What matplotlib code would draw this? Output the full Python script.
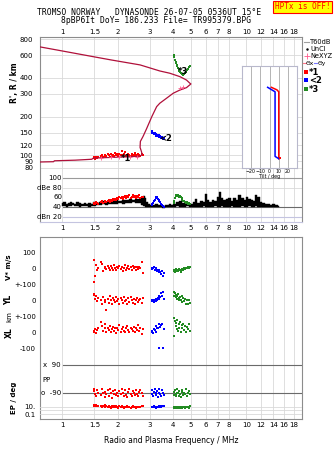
import matplotlib
matplotlib.use('Agg')
import matplotlib.pyplot as plt
import numpy as np
from matplotlib.ticker import FixedLocator, FixedFormatter, NullLocator

plt.rcParams['font.family'] = 'DejaVu Sans'
plt.rcParams['font.size'] = 5

# ---------------- data ----------------
freq_ticks = [1, 1.5, 2, 3, 4, 5, 6, 7, 8, 10, 12, 14, 16, 18]
freq_labels = ['1', '1.5', '2', '3', '4', '5', '6', '7', '8', '10', '12', '14', '16', '18']
height_ticks = [80, 90, 100, 120, 150, 200, 300, 400, 600, 800]

# model profile (frequency MHz, height km)
prof_f = [0.75, 0.90, 0.91, 1.18, 1.45, 1.48, 2.00, 2.60, 2.72, 2.70,
          2.65, 2.66, 2.75, 2.87, 3.07, 3.26, 3.39, 3.69, 4.01, 4.36,
          4.73, 5.00, 4.93, 4.73, 4.36, 3.84, 3.39, 2.65, 1.86, 1.48,
          1.00, 0.75]
prof_h = [88.5, 89, 90.5, 91.5, 93, 95, 96.5, 98, 100.5, 106,
          115, 128, 140, 160, 200, 239, 254, 278, 304, 322,
          336, 359, 364, 385, 409, 435, 453, 505, 551, 585,
          649, 700]

nexyz_f = [1.62, 1.85, 2.05, 2.35, 2.55, 4.35, 4.55]
nexyz_h = [95, 96, 96.5, 97, 97.5, 334, 338]

# echo group 1 (red)
red_f = [1.49, 1.50, 1.51, 1.52, 1.54, 1.57, 1.62, 1.65, 1.67, 1.70,
         1.72, 1.74, 1.77, 1.79, 1.81, 1.84, 1.86, 1.89, 1.91, 1.94,
         1.97, 1.99, 2.02, 2.05, 2.08, 2.11, 2.14, 2.17, 2.20, 2.23,
         2.26, 2.29, 2.32, 2.36, 2.39, 2.42, 2.46, 2.49, 2.52, 2.55,
         2.59, 2.62, 2.66, 2.70, 2.74]
red_h = [95, 96, 94, 97, 95, 96, 98, 100, 97, 101,
         99, 98, 102, 100, 97, 103, 99, 101, 98, 104,
         100, 102, 99, 103, 101, 108, 100, 102, 105, 99,
         101, 103, 100, 98, 102, 99, 101, 104, 100, 98,
         102, 101, 99, 103, 100]
red_amp = [47, 49, 46, 50, 48, 47, 50, 52, 49, 51,
           53, 50, 52, 54, 51, 55, 53, 56, 54, 57,
           55, 59, 56, 60, 58, 62, 57, 61, 64, 59,
           63, 60, 65, 58, 62, 66, 60, 63, 59, 64,
           61, 65, 58, 62, 60]
red_vstar = [52, -88, -45, 20, -10, 0, 42, 25, -15, 10,
             5, -5, 15, 0, -10, 12, 3, -8, 18, 5,
             -12, 8, 0, 15, -5, 10, -15, 5, 20, -8,
             2, 12, -6, 8, -12, 15, 0, 6, -10, 10,
             -4, 8, 0, 40, -30]
red_yl = [40, 35, 10, 25, -5, 15, 0, -20, 20, 5,
          -10, -60, 10, -15, 25, 0, -20, 15, 5, -10,
          20, -5, 10, -25, 15, 0, -15, 20, -5, 5,
          -20, 12, -8, 18, 0, -15, 10, -22, 5, 15,
          -10, 0, 8, -18, 12]
red_xl = [10, 5, 20, -5, 15, 30, 65, 40, 10, 25,
          55, 5, 30, 15, 40, 0, 20, 35, 10, 25,
          -5, 30, 15, 45, 5, 20, 35, 10, 0, 25,
          40, 15, 5, 30, 20, 10, 35, 0, 25, 15,
          45, 10, 30, -10, 20]
red_pp = [-60, -75, -95, -110, -70, -85, -100, -65, -90, -115,
          -80, -95, -70, -105, -60, -88, -120, -75, -92, -68,
          -100, -85, -110, -78, -95, -62, -88, -105, -72, -98,
          -115, -80, -65, -92, -108, -75, -85, -100, -70, -95,
          -110, -82, -68, -90, -105]
red_ep = [20, 25, 15, 22, 18, 12, 20, 8, 15, 10,
          25, 12, 8, 18, 10, 6, 14, 9, 12, 7,
          16, 10, 6, 12, 8, 15, 9, 6, 11, 8,
          13, 7, 10, 6, 9, 12, 7, 10, 6, 8,
          11, 7, 9, 12, 15]

# echo group 2 (blue)
blue_f = [3.06, 3.08, 3.12, 3.15, 3.19, 3.22, 3.25, 3.28, 3.31, 3.34,
          3.37, 3.40, 3.44, 3.48, 3.53, 3.58]
blue_h = [150, 154, 148, 145, 149, 146, 142, 144, 140, 143,
          138, 141, 136, 139, 134, 136]
blue_amp = [46, 44, 48, 52, 55, 58, 60, 61, 57, 55,
            52, 50, 47, 44, 42, 40]
blue_vstar = [5, -5, 0, 10, -10, -5, 0, -15, -8, -20,
              -12, -25, -35, -15, -45, -30]
blue_yl = [0, -5, 5, -8, 0, 10, -5, 5, 15, 8,
           25, 20, 45, 30, 55, 10]
blue_xl = [0, 10, -5, 20, 15, 5, 40, 30, 25, -100,
           50, 35, 45, 55, -100, 20]
blue_pp = [-70, -95, -110, -80, -65, -100, -90, -75, -115, -85,
           -60, -95, -105, -72, -88, -98]
blue_ep = [8, 10, 7, 12, 9, 6, 8, 10, 7, 12,
           9, 14, 11, 16, 18, 20]

# echo group 3 (green)
green_f = [4.04, 4.07, 4.10, 4.13, 4.16, 4.19, 4.22, 4.25, 4.29, 4.33,
           4.37, 4.41, 4.45, 4.50, 4.55, 4.60, 4.65, 4.70, 4.76, 4.82,
           4.88, 4.95]
green_h = [605, 580, 555, 535, 520, 505, 492, 480, 468, 455,
           448, 440, 432, 426, 422, 428, 438, 448, 460, 472,
           485, 495]
green_amp = [48, 52, 58, 63, 66, 65, 64, 66, 63, 62,
             64, 60, 58, 55, 52, 53, 50, 48, 50, 47,
             49, 46]
green_vstar = [-15, -10, -20, -5, -12, -18, -8, -15, -10, -5,
               -12, -20, -8, -3, -10, 0, -5, 5, 0, 8,
               3, 10]
green_yl = [30, 55, 45, 20, 35, 10, 25, 40, 15, 0,
            20, 5, 30, -10, 15, -5, 10, -20, 0, -25,
            5, -15]
green_xl = [90, -25, 70, 40, 60, 20, 75, 10, 50, 30,
            65, 0, 45, 25, 55, 15, 40, 5, 35, 20,
            50, 10]
green_pp = [-80, -100, -70, -95, -110, -85, -65, -90, -105, -75,
            -95, -115, -80, -70, -100, -88, -92, -60, -108, -85,
            -78, -95]
green_ep = [6, 8, 5, 9, 7, 10, 6, 8, 5, 7,
            9, 6, 8, 5, 7, 10, 6, 8, 7, 9,
            6, 12]

# unclassified amplitude envelope (dB)
amp_f = [1.00, 1.03, 1.06, 1.09, 1.12, 1.15, 1.18, 1.21, 1.25, 1.29,
         1.33, 1.37, 1.41, 1.45, 1.50, 1.56, 1.62, 1.68, 1.75, 1.82,
         1.90, 1.98, 2.06, 2.15, 2.25, 2.35, 2.45, 2.55, 2.65, 2.72,
         2.78, 2.84, 2.90, 2.97, 3.05, 3.15, 3.25, 3.35, 3.45, 3.55,
         3.65, 3.75, 3.85, 3.95, 4.05, 4.20, 4.40, 4.60, 4.80, 5.00,
         5.20, 5.35, 5.50, 5.70, 5.90, 6.05, 6.20, 6.40, 6.60, 6.80,
         7.00, 7.20, 7.40, 7.60, 7.85, 8.10, 8.35, 8.60, 8.90, 9.20,
         9.50, 9.80, 10.1, 10.4, 10.7, 11.0, 11.3, 11.6, 12.0, 12.4,
         12.8, 13.2, 13.6, 14.0, 14.5, 15.0]
amp_top = [48, 50, 47, 49, 51, 48, 47, 50, 49, 46,
           48, 47, 49, 46, 50, 49, 51, 52, 50, 53,
           52, 54, 53, 55, 54, 56, 55, 57, 56, 62,
           64, 58, 50, 46, 45, 44, 46, 45, 44, 43,
           45, 44, 46, 45, 47, 50, 52, 49, 47, 46,
           50, 56, 48, 52, 50, 67, 55, 50, 54, 52,
           60, 72, 58, 54, 56, 59, 52, 58, 55, 66,
           58, 54, 60, 57, 55, 52, 66, 60, 50, 48,
           46, 47, 45, 46, 44, 43]
amp_bot = [42, 43, 41, 43, 42, 44, 42, 43, 41, 42,
           43, 42, 41, 42, 43, 44, 45, 46, 45, 46,
           47, 46, 48, 47, 49, 48, 50, 49, 48, 45,
           42, 41, 40, 41, 40, 41, 40, 41, 40, 39,
           40, 41, 40, 41, 40, 42, 41, 40, 42, 41,
           41, 40, 41, 40, 42, 41, 40, 41, 40, 42,
           41, 40, 42, 41, 40, 41, 42, 40, 41, 40,
           42, 41, 40, 42, 41, 40, 42, 41, 40, 41,
           40, 41, 40, 41, 40, 41]

# tilt inset (deg, km)
tiltx_deg = [2, 8, 10, 10]
tiltx_h = [338, 323, 312, 94]
tilty_deg = [-2, 6, 6, 10]
tilty_h = [338, 312, 98, 94]

# ---------------- styling ----------------
W, H = 335, 451
PROF = '#b0103a'
GRID = '#d9d9d9'
FRAME = '#8c8c8c'
DARK = '#6a6a6a'
RED, BLUE, GREEN = '#ff0000', '#0000ff', '#228b22'
PINK = '#ff5a8c'
MS = 1.9

fig = plt.figure(figsize=(W / 100, H / 100), dpi=100)


def px_axes(x0, y0, x1, y1):
    return fig.add_axes([x0 / W, 1 - y1 / H, (x1 - x0) / W, (y1 - y0) / H])


def freq_axis(ax, grid=True):
    ax.set_xscale('log')
    ax.set_xlim(0.76, 20)
    ax.xaxis.set_major_locator(FixedLocator(freq_ticks))
    ax.xaxis.set_major_formatter(FixedFormatter(freq_labels))
    ax.xaxis.set_minor_locator(NullLocator())
    ax.tick_params(axis='x', length=0, labelsize=5, pad=2)
    if grid:
        for f in freq_ticks:
            ax.axvline(f, color=GRID, lw=0.6, zorder=0)
    for s in ax.spines.values():
        s.set_color(FRAME)
        s.set_linewidth(0.8)


def bare(ax):
    ax.patch.set_visible(False)
    for s in ax.spines.values():
        s.set_visible(False)
    ax.set_xscale('log')
    ax.set_xlim(0.76, 20)
    ax.set_xticks([])
    ax.xaxis.set_minor_locator(NullLocator())


# title
fig.text(149 / W, 1 - 12.7 / H, 'TROMSO NORWAY   DYNASONDE 26-07-05 0536UT 15°E',
         family='DejaVu Sans Mono', fontsize=5.8, ha='center', va='center')
fig.text(156 / W, 1 - 20.3 / H, '8pBP6It DoY= 186.233 File= TR995379.BPG',
         family='DejaVu Sans Mono', fontsize=5.8, ha='center', va='center')
fig.text(302.5 / W, 1 - 6.8 / H, 'HPTx is OFF!', family='DejaVu Sans Mono',
         fontsize=5.6, color='red', ha='center', va='center',
         bbox=dict(boxstyle='square,pad=0.2', fc='#ffff00', ec='red', lw=0.8))

# ---------------- height panel ----------------
ax_h = px_axes(40, 37, 302, 172)
freq_axis(ax_h)
ax_h.set_yscale('log')
ax_h.set_ylim(74, 833)
ax_h.yaxis.set_major_locator(FixedLocator(height_ticks))
ax_h.yaxis.set_major_formatter(FixedFormatter([str(v) for v in height_ticks]))
ax_h.yaxis.set_minor_locator(NullLocator())
ax_h.tick_params(axis='y', length=0, labelsize=5, pad=5)
ax_h.tick_params(axis='x', labeltop=True, labelbottom=False, pad=1.5)
ax_h.spines['bottom'].set_visible(False)
for v in height_ticks:
    ax_h.axhline(v, color=GRID, lw=0.6, zorder=0)

ax_h.plot(red_f, red_h, 's', color=RED, ms=MS, mew=0, zorder=3)
ax_h.plot(blue_f, blue_h, 's', color=BLUE, ms=MS, mew=0, zorder=3)
ax_h.plot(green_f, green_h, 's', color=GREEN, ms=MS, mew=0, zorder=3)
ax_h.plot(prof_f, prof_h, color=PROF, lw=0.9, zorder=4)
ax_h.plot(nexyz_f, nexyz_h, '+', color=PINK, ms=3, mew=0.6, zorder=5)
for lab, f, h in [('*1', 2.22, 93.5), ('<2', 3.63, 135), ('*3', 4.53, 448)]:
    ax_h.text(f, h, lab, fontsize=6, fontweight='bold', ha='center', va='center', zorder=6)

fig.text(14 / W, 1 - 83 / H, "R', R / km", rotation=90, fontsize=5.5,
         fontweight='bold', ha='center', va='center')

# tilt inset
ax_t = px_axes(241.7, 65.7, 297.3, 167.7)
ax_t.set_facecolor('white')
ax_t.set_zorder(5)
ax_t.set_xlim(-30, 30)
ax_t.set_yscale('log')
ax_t.set_ylim(80, 498)
ax_t.set_yticks([])
ax_t.yaxis.set_minor_locator(NullLocator())
ax_t.set_xticks([-20, -10, 0, 10, 20])
ax_t.tick_params(axis='x', length=0, labelsize=3.4, pad=0.8)
for s in ax_t.spines.values():
    s.set_color('#b8b8cc')
    s.set_linewidth(0.8)
for t in [-20, -10, 0, 10, 20]:
    ax_t.axvline(t, color='#a8a8a8', lw=0.6, zorder=0)
ax_t.plot(tiltx_deg, tiltx_h, color=RED, lw=1.1)
ax_t.plot(tilty_deg, tilty_h, color=BLUE, lw=1.1)
ax_t.plot([11], [95], 's', color=RED, ms=1.6, mew=0)
ax_t.set_xlabel('Tilt / deg', fontsize=3.4, labelpad=0.3)

# legend
ax_l = px_axes(302, 37, 335, 95)
ax_l.axis('off')
ax_l.set_xlim(302, 335)
ax_l.set_ylim(95, 37)
ax_l.plot([304, 309], [42.3, 42.3], color='#a0a0a0', lw=0.8)
ax_l.text(310, 42.3, 'T60dB', fontsize=4.8, va='center')
ax_l.plot([306.5], [49], '.', color='k', ms=1.5)
ax_l.text(310, 49, 'UnCl', fontsize=4.8, va='center')
ax_l.plot([306.5], [55.7], '+', color=PINK, ms=4, mew=0.6)
ax_l.text(310, 55.7, 'NeXYZ', fontsize=4.8, va='center')
ax_l.plot([302.7, 305.5], [63.3, 63.3], color='#ff7a8a', lw=0.8)
ax_l.text(306, 63.3, 'Θx', fontsize=4.3, va='center')
ax_l.plot([314, 317], [63.3, 63.3], color='#7a7aff', lw=0.8)
ax_l.text(317.5, 63.3, 'Θy', fontsize=4.3, va='center')
for col, lab, y in [(RED, '*1', 72.3), (BLUE, '<2', 80.3), (GREEN, '*3', 89.3)]:
    ax_l.plot([305.7], [y], 's', color=col, ms=2.2, mew=0)
    ax_l.text(309, y, lab, fontsize=6, fontweight='bold', va='center')

# ---------------- amplitude panel ----------------
ax_a = px_axes(40, 172, 302, 222)
freq_axis(ax_a)
ax_a.set_ylim(10.5, 111.5)
ax_a.set_yticks([])
ax_a.spines['top'].set_visible(False)
ax_a.spines['bottom'].set_color('#c4c4e0')
x0 = 0.088
ax_a.axhline(100, xmin=x0, color='#9a9a9a', lw=0.8)
ax_a.axhline(80, xmin=x0, color=GRID, lw=0.6)
ax_a.axhline(40, xmin=x0, color=DARK, lw=0.8)
ax_a.axhline(20, xmin=x0, color='#c4c4e0', lw=0.8)
for v, lab in [(100, '100'), (80, 'dBe 80'), (60, '60'), (40, '40'), (20, 'dBn 20')]:
    ax_a.text(0.084, v, lab, transform=ax_a.get_yaxis_transform(), fontsize=5,
              ha='right', va='center')
ax_a.fill_between(amp_f, amp_bot, amp_top, step='mid', color='k', lw=0.3, zorder=2)
ax_a.plot(red_f, red_amp, 's', color=RED, ms=MS, mew=0, zorder=3)
ax_a.plot(blue_f, blue_amp, 's', color=BLUE, ms=MS, mew=0, zorder=3)
ax_a.plot(green_f, green_amp, 's', color=GREEN, ms=MS, mew=0, zorder=3)

# ---------------- bottom panel ----------------
ax_b = px_axes(40, 237, 302, 419)
freq_axis(ax_b)
ax_b.set_yticks([])
ax_b.set_xlabel('Radio and Plasma Frequency / MHz', fontsize=5.5, labelpad=6)

# V*, YL, XL stacked with offsets of 200 units
offs = {'v': 0, 'yl': -200, 'xl': -400}
ax_v = px_axes(40, 237, 302, 357)
bare(ax_v)
ax_v.set_ylim(-554, 195.6)
ax_v.set_yticks([100, 0, -100, -200, -300, -400, -500])
ax_v.set_yticklabels(['100', '0', '+-100', '0', '+-100', '0', '-100'])
ax_v.tick_params(axis='y', length=0, labelsize=5, pad=3)
for f, vs, yl, xl, c in [(red_f, red_vstar, red_yl, red_xl, RED),
                         (blue_f, blue_vstar, blue_yl, blue_xl, BLUE),
                         (green_f, green_vstar, green_yl, green_xl, GREEN)]:
    ax_v.plot(f, np.array(vs) + offs['v'], 's', color=c, ms=MS, mew=0)
    ax_v.plot(f, np.array(yl) + offs['yl'], 's', color=c, ms=MS, mew=0)
    ax_v.plot(f, np.array(xl) + offs['xl'], 's', color=c, ms=MS, mew=0)

fig.text(9 / W, 1 - 267 / H, 'V* m/s', rotation=90, fontsize=5, fontweight='bold',
         ha='center', va='center')
fig.text(9 / W, 1 - 300 / H, 'YL', rotation=90, fontsize=5.5, fontweight='bold',
         ha='center', va='center')
fig.text(9 / W, 1 - 317 / H, 'km', rotation=90, fontsize=5, ha='center', va='center')
fig.text(9 / W, 1 - 333 / H, 'XL', rotation=90, fontsize=5.5, fontweight='bold',
         ha='center', va='center')

# polarisation
ax_p = px_axes(40, 357, 302, 400)
bare(ax_p)
ax_p.set_ylim(-132.6, 140.9)
ax_p.set_yticks([])
ax_p.axhline(90, xmin=x0, color=DARK, lw=0.8)
ax_p.axhline(-90, xmin=x0, color=DARK, lw=0.8)
ax_p.text(0.08, 90, 'x  90', transform=ax_p.get_yaxis_transform(), fontsize=5,
          ha='right', va='center')
ax_p.text(0.08, -90, 'o  -90', transform=ax_p.get_yaxis_transform(), fontsize=5,
          ha='right', va='center')
ax_p.text(0.01, -5, 'PP', transform=ax_p.get_yaxis_transform(), fontsize=5,
          ha='left', va='center')
ax_p.plot(red_f, red_pp, 's', color=RED, ms=MS, mew=0)
ax_p.plot(blue_f, blue_pp, 's', color=BLUE, ms=MS, mew=0)
ax_p.plot(green_f, green_pp, 's', color=GREEN, ms=MS, mew=0)

# error of polarisation
ax_e = px_axes(40, 400, 302, 419)
bare(ax_e)
ax_e.set_yscale('log')
ax_e.set_ylim(0.0058, 579)
ax_e.yaxis.set_major_locator(FixedLocator([10, 0.1]))
ax_e.yaxis.set_major_formatter(FixedFormatter(['10.', '0.1']))
ax_e.yaxis.set_minor_locator(NullLocator())
ax_e.tick_params(axis='y', length=0, labelsize=5, pad=3)
for v in [10, 1, 0.1]:
    ax_e.axhline(v, color=GRID, lw=0.6, zorder=0)
ax_e.plot(red_f, red_ep, 's', color=RED, ms=MS, mew=0)
ax_e.plot(blue_f, blue_ep, 's', color=BLUE, ms=MS, mew=0)
ax_e.plot(green_f, green_ep, 's', color=GREEN, ms=MS, mew=0)

fig.text(14 / W, 1 - 398 / H, 'EP / deg', rotation=90, fontsize=5, fontweight='bold',
         ha='center', va='center')

fig.savefig('out.png', dpi=100)
